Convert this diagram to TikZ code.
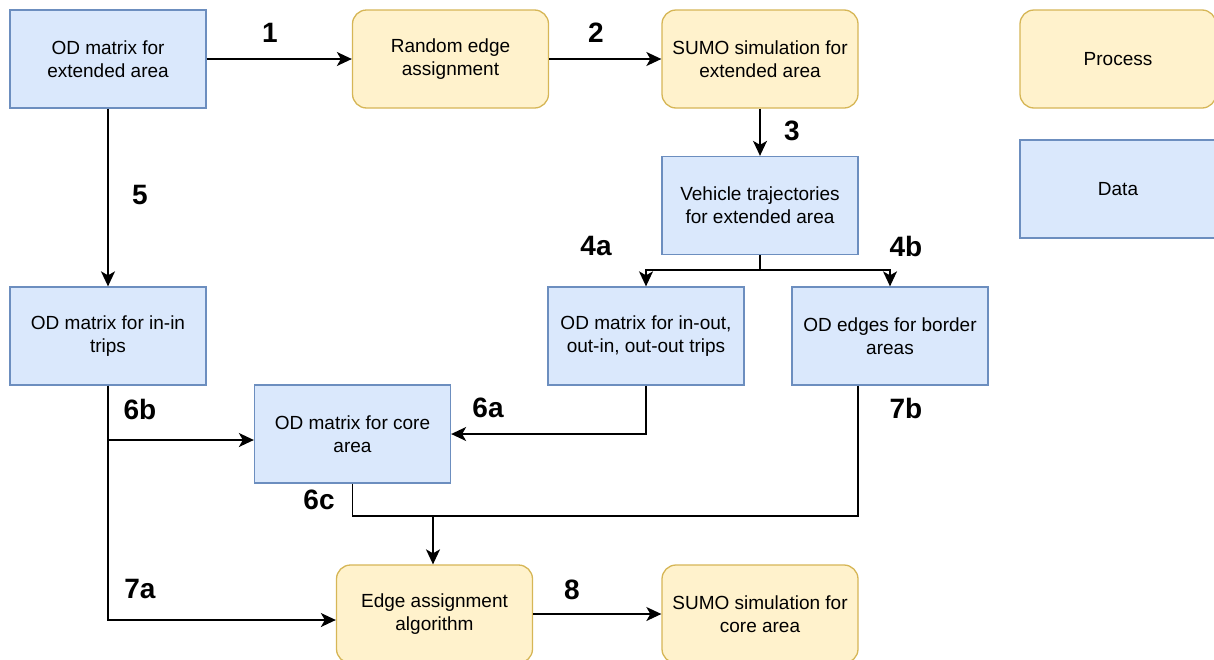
\documentclass[tikz,border=0pt]{standalone}
\usepackage{fontspec}
\setmainfont{Liberation Sans}
\usetikzlibrary{arrows.meta}
\definecolor{dfill}{HTML}{DAE8FC}
\definecolor{ddraw}{HTML}{6C8EBF}
\definecolor{pfill}{HTML}{FFF2CC}
\definecolor{pdraw}{HTML}{D6B656}
\begin{document}
\begin{tikzpicture}[x=1pt,y=-1pt,
 box/.style={minimum width=196pt,minimum height=98pt,align=center,inner sep=0pt,font=\fontsize{19}{23}\selectfont,line width=1.3pt},
 data/.style={box,fill=dfill,draw=ddraw},
 proc/.style={box,fill=pfill,draw=pdraw,rounded corners=14pt},
 arr/.style={line width=1.5pt,-{Stealth[length=15pt,width=14pt,inset=4pt]}},
 lnk/.style={line width=1.5pt},
 lbl/.style={font=\bfseries\fontsize{28}{28}\selectfont,inner sep=0pt}]
\useasboundingbox (0,0) rectangle (1214,659);
\node[data] (A) at (108,59) {OD matrix for\\extended area};
\node[proc] (B) at (450.5,59) {Random edge\\assignment};
\node[proc] (C) at (760,59) {SUMO simulation for\\extended area};
\node[data] (D) at (760,205.5) {Vehicle trajectories\\for extended area};
\node[data] (E) at (108,336) {OD matrix for in-in\\trips};
\node[data] (F) at (646,336) {OD matrix for in-out,\\out-in, out-out trips};
\node[data] (G) at (890,336) {OD edges for border\\areas};
\node[data] (H) at (352.5,434) {OD matrix for core\\area};
\node[proc] (I) at (434.5,614) {Edge assignment\\algorithm};
\node[proc] (J) at (760,614) {SUMO simulation for\\core area};
\node[proc] (P) at (1118,59) {Process};
\node[data] (Q) at (1118,189) {Data};

\draw[arr] (A) -- (B);
\draw[arr] (B) -- (C);
\draw[arr] (C) -- (D);
\draw[arr] (A) -- (E);
\coordinate (dj) at (760,270);
\draw[lnk] (D.south) -- (dj);
\draw[arr] (dj) -| (F.north);
\draw[arr] (dj) -| (G.north);
\draw[arr] (F.south) |- (H.east);
\draw[arr] (E.south) |- ([yshift=-6pt]H.west);
\draw[arr] (E.south) |- ([yshift=-6pt]I.west);
\coordinate (m) at (433,516);
\draw[lnk] (H.south) |- (m);
\draw[lnk] ([xshift=-32pt]G.south) |- (m);
\draw[arr] (m) -- (m |- I.north);
\draw[arr] (I) -- (J);

\node[lbl] (l1) at (270,33) {1};
\node[lbl] (l2) at (596,33) {2};
\node[lbl] (l3) at (792,131) {3};
\node[lbl] (l4a) at (596,246) {4a};
\node[lbl] (l4b) at (906,246) {4b};
\node[lbl] (l5) at (140,195) {5};
\node[lbl] (l6b) at (140,409) {6b};
\node[lbl] (l6a) at (488,408) {6a};
\node[lbl] (l7b) at (906,408) {7b};
\node[lbl] (l6c) at (319,500) {6c};
\node[lbl] (l7a) at (140,589) {7a};
\node[lbl] (l8) at (572,590) {8};
\end{tikzpicture}
\end{document}
